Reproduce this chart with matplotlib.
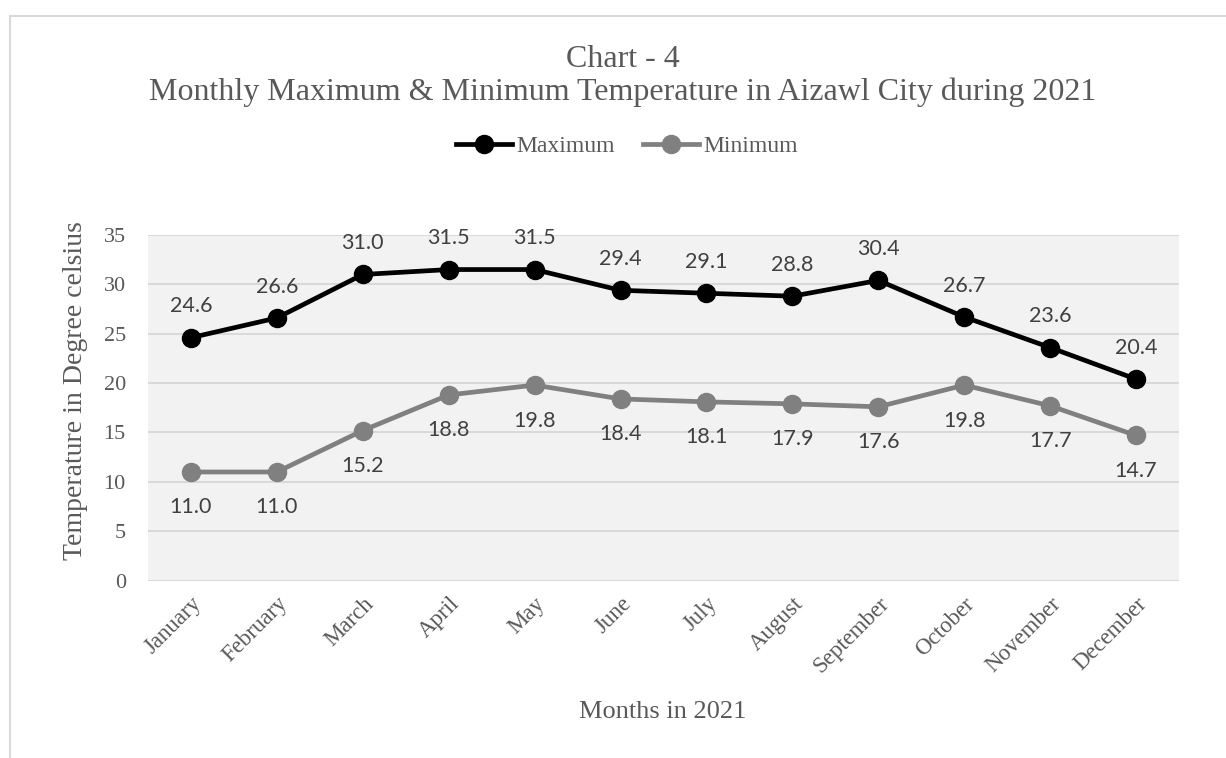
import matplotlib
matplotlib.use("Agg")
import matplotlib.pyplot as plt
from matplotlib.patches import Rectangle

# Data
months = ["January", "February", "March", "April", "May", "June", "July",
          "August", "September", "October", "November", "December"]
maximum = [24.6, 26.6, 31.0, 31.5, 31.5, 29.4, 29.1, 28.8, 30.4, 26.7, 23.6, 20.4]
minimum = [11.0, 11.0, 15.2, 18.8, 19.8, 18.4, 18.1, 17.9, 17.6, 19.8, 17.7, 14.7]

serif = "Liberation Serif"
label_font = "Lato"
txt = "#595959"

fig = plt.figure(figsize=(12.26, 7.58), dpi=100)
ax = fig.add_axes([0.1207, 0.234, 0.841, 0.456])
ax.set_facecolor("#f2f2f2")

x = list(range(len(months)))
ax.plot(x, maximum, color="black", lw=3.4, marker="o", ms=13, label="Maximum", zorder=3)
ax.plot(x, minimum, color="#808080", lw=3.4, marker="o", ms=13, label="Minimum", zorder=3)

# data labels: max above, min below
for xi, v in zip(x, maximum):
    ax.annotate(f"{v:.1f}", (xi, v), xytext=(0, 22.5), textcoords="offset points",
                ha="center", va="center", fontsize=15.5, color="#404040", family=label_font)
for xi, v in zip(x, minimum):
    ax.annotate(f"{v:.1f}", (xi, v), xytext=(0, -25.5), textcoords="offset points",
                ha="center", va="center", fontsize=15.5, color="#404040", family=label_font)

ax.set_xlim(-0.5, len(months) - 0.5)
ax.set_ylim(0, 35)
ax.set_yticks(range(0, 36, 5))
ax.grid(axis="y", color="#d9d9d9", lw=1.4)
ax.set_axisbelow(True)
for s in ax.spines.values():
    s.set_visible(False)
ax.tick_params(axis="y", length=0, pad=16)
ax.set_xticks(x)
ax.set_xticklabels(months, rotation=45, ha="right", rotation_mode="anchor",
                   fontsize=16.5, color=txt, family=serif)
ax.tick_params(axis="x", length=0, pad=9)
for t in ax.get_yticklabels():
    t.set_fontsize(16)
    t.set_color(txt)
    t.set_family(serif)

fig.text(76 / 1226, 1 - 391 / 758, "Temperature in Degree celsius", rotation=90,
         ha="center", va="center", fontsize=20, color=txt, family=serif)
fig.text(663 / 1226, 1 - 712 / 758, "Months in 2021",
         ha="center", va="center", fontsize=19, color=txt, family=serif)

fig.text(0.508, 1 - 67 / 758, "Chart - 4", ha="center", va="baseline",
         fontsize=23, color=txt, family=serif)
fig.text(0.508, 1 - 100 / 758, "Monthly Maximum & Minimum Temperature in Aizawl City during 2021",
         ha="center", va="baseline", fontsize=23, color=txt, family=serif)

leg = fig.legend(loc="center", bbox_to_anchor=(627 / 1226, 1 - 146 / 758), ncol=2, frameon=False,
                 prop={"family": serif, "size": 17}, handlelength=2.35, handletextpad=0.2,
                 columnspacing=1.2)
for t in leg.get_texts():
    t.set_color(txt)

# outer chart border
fig.patches.append(Rectangle((10 / 1226, -0.1), 1.2, 1 - 16 / 758 + 0.1, transform=fig.transFigure,
                             fill=False, edgecolor="#d9d9d9", lw=1.5))

fig.savefig("out.png", dpi=100)
